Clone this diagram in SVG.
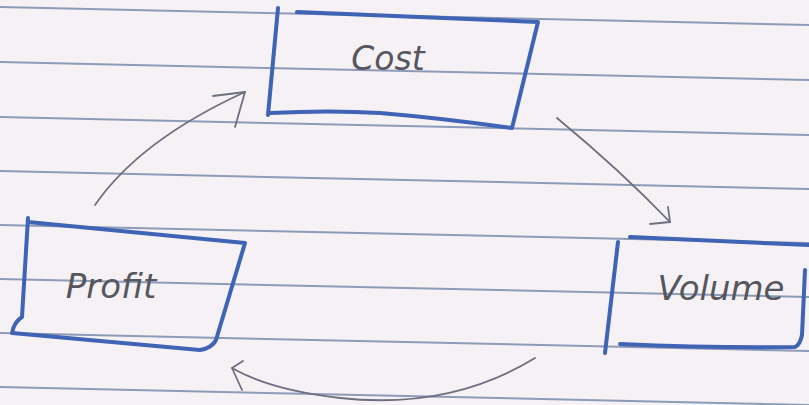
<svg xmlns="http://www.w3.org/2000/svg" width="809" height="405" viewBox="0 0 809 405">
<style>
.rule{stroke:#8c9bb8;stroke-width:2;fill:none}
.box{fill:none;stroke:#3f63b5;stroke-width:4;stroke-linecap:round;stroke-linejoin:round}
.lbl{font-family:"DejaVu Sans","Liberation Sans",sans-serif;fill:#55565e;font-style:italic}
.conn{fill:none;stroke:#6d7080;stroke-width:1.8;stroke-linecap:round;stroke-linejoin:round}
</style>
<rect width="809" height="405" fill="#f6f1f5"/>
<g id="paper-lines">
<line class="rule" x1="0" y1="7" x2="809" y2="25"/>
<line class="rule" x1="0" y1="62" x2="809" y2="80"/>
<line class="rule" x1="0" y1="117" x2="809" y2="135"/>
<line class="rule" x1="0" y1="171" x2="809" y2="189"/>
<line class="rule" x1="0" y1="225" x2="809" y2="243"/>
<line class="rule" x1="0" y1="279" x2="809" y2="297"/>
<line class="rule" x1="0" y1="333" x2="809" y2="351"/>
<line class="rule" x1="0" y1="387" x2="809" y2="405"/>
</g>
<g id="node-cost">
<path class="box" d="M278 8 L268 115 M297 12 L538 22 L512 128 M270 113 Q330 110 380 113 Q440 118 512 128"/>
<text class="lbl" x="388" y="70" text-anchor="middle" font-size="33">Cost</text>
</g>
<g id="node-profit">
<path class="box" d="M28 218 L22 317 Q14 322 12 333 M28 222 L245 243 L216 340 Q212 348 200 350 M12 333 Q110 342 200 350"/>
<text class="lbl" x="111" y="298" text-anchor="middle" font-size="34">Profit</text>
</g>
<g id="node-volume">
<path class="box" d="M618 242 L605 353 M630 237 L809 245 M805 270 L802 335 Q800 345 795 347 M620 344 Q710 348 795 347"/>
<text class="lbl" x="721" y="300" text-anchor="middle" font-size="34">Volume</text>
</g>
<g id="connectors">
<path class="conn" d="M95 205 Q140 140 245 92"/>
<path class="conn" d="M213 96 L245 92 L235 127"/>
<path class="conn" d="M557 118 Q620 170 670 222"/>
<path class="conn" d="M668 207 L670 222 L650 224"/>
<path class="conn" d="M535 358 Q450 410 340 398 Q270 390 232 368"/>
<path class="conn" d="M243 361 L232 368 L242 390"/>
</g>
</svg>
